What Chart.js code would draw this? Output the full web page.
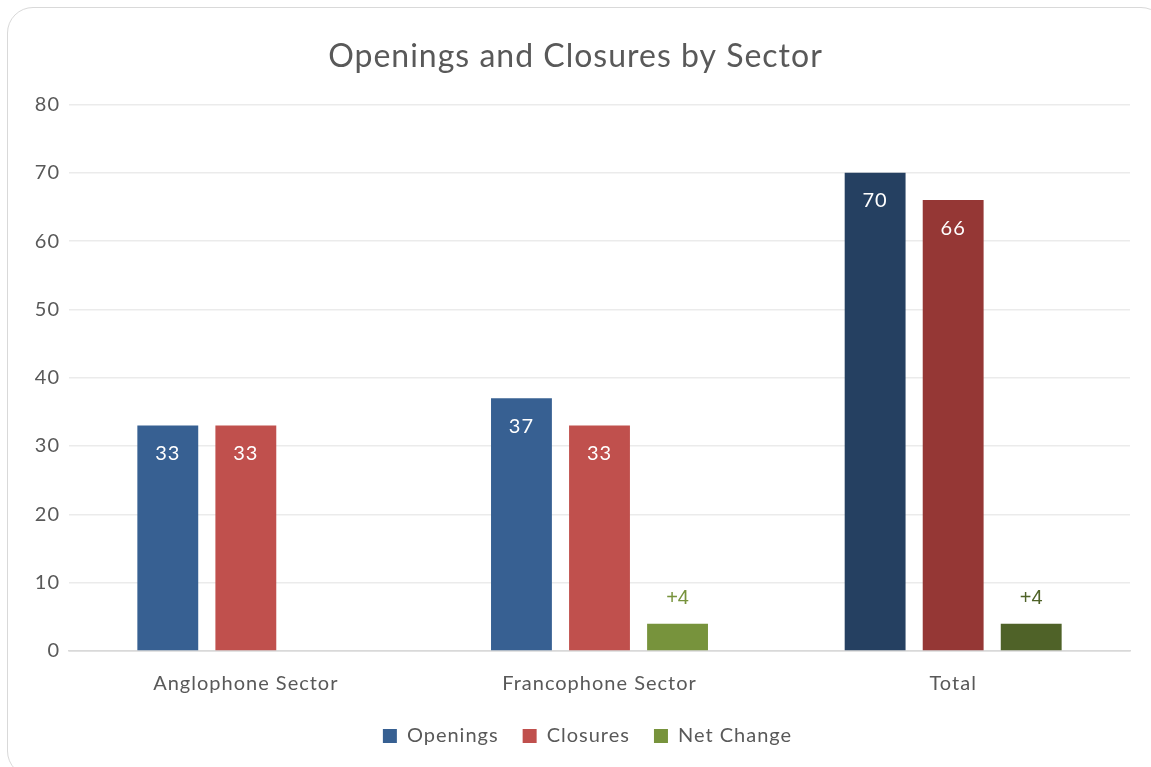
<!DOCTYPE html>
<html><head><meta charset="utf-8">
<script src="https://cdn.jsdelivr.net/npm/chart.js@4/dist/chart.umd.min.js"></script>
<style>
html,body{margin:0;padding:0;background:#fff;overflow:hidden;}
#frame{position:absolute;left:7px;top:7px;width:1160px;height:770px;border:1.5px solid #d9d9d9;border-radius:26px;box-sizing:border-box;}
#wrap{position:absolute;left:0;top:0;width:1151px;height:767px;}
</style></head>
<body>
<div id="frame"></div>
<div id="wrap"><canvas id="c" width="1151" height="767"></canvas></div>
<script>
const categories = ["Anglophone Sector", "Francophone Sector", "Total"];
const openings = [33, 37, 70];
const closures = [33, 33, 66];
const netChange = [null, 4, 4];
const netLabels = ["", "+4", "+4"];
const yTicks = [0, 10, 20, 30, 40, 50, 60, 70, 80];

const FONT = "Lato, 'Open Sans', sans-serif";
const TXT = "#595959";
const SPACING = '1px';

const spacingPlugin = {
  id: 'spacing',
  beforeInit(chart) { chart.ctx.letterSpacing = SPACING; },
  beforeUpdate(chart) { chart.ctx.letterSpacing = SPACING; },
  beforeLayout(chart) { chart.ctx.letterSpacing = SPACING; },
  afterLayout(chart) {
    if (chart.legend) { chart.legend.left += 12; chart.legend.right += 12; }
  },
  beforeDraw(chart) { chart.ctx.letterSpacing = SPACING; }
};

const labelPlugin = {
  id: 'barLabels',
  afterDatasetsDraw(chart) {
    const ctx = chart.ctx;
    ctx.save();
    ctx.textAlign = 'center';
    chart.data.datasets.forEach((ds, di) => {
      const meta = chart.getDatasetMeta(di);
      meta.data.forEach((bar, i) => {
        const v = ds.data[i];
        if (v === null || v === undefined) return;
        if (di < 2) {
          ctx.fillStyle = '#ffffff';
          ctx.font = "20px " + FONT;
          ctx.textBaseline = 'middle';
          ctx.fillText(String(v), bar.x, bar.y + 28);
        } else {
          ctx.fillStyle = Array.isArray(ds.backgroundColor) ? ds.backgroundColor[i] : ds.backgroundColor;
          ctx.font = "20px 'Liberation Sans', Arial, sans-serif";
          ctx.letterSpacing = '0px';
          ctx.textBaseline = 'middle';
          ctx.fillText(netLabels[i], bar.x, bar.y - 25);
          ctx.letterSpacing = SPACING;
        }
      });
    });
    ctx.restore();
  }
};

new Chart(document.getElementById('c'), {
  type: 'bar',
  data: {
    labels: categories,
    datasets: [
      { label: 'Openings', data: openings, backgroundColor: ['#376092', '#376092', '#254061'], categoryPercentage: 0.662, barPercentage: 0.78 },
      { label: 'Closures', data: closures, backgroundColor: ['#C0504D', '#C0504D', '#953735'], categoryPercentage: 0.662, barPercentage: 0.78 },
      { label: 'Net Change', data: netChange, backgroundColor: ['#77933C', '#77933C', '#4F6228'], categoryPercentage: 0.662, barPercentage: 0.78 }
    ]
  },
  options: {
    responsive: false,
    animation: false,
    devicePixelRatio: 1,
    layout: { padding: { top: 20, right: 21, bottom: 11, left: 21 } },
    plugins: {
      title: {
        display: true,
        text: 'Openings and Closures by Sector',
        color: TXT,
        font: { family: FONT, size: 32, weight: 'normal' },
        padding: { top: 17, bottom: 29 }
      },
      legend: {
        position: 'bottom',
        labels: {
          color: TXT,
          font: { family: FONT, size: 20 },
          boxWidth: 14, boxHeight: 14,
          padding: 24,
          generateLabels(chart) {
            return chart.data.datasets.map((ds, i) => ({
              text: ds.label,
              fillStyle: ds.backgroundColor[0],
              strokeStyle: ds.backgroundColor[0],
              lineWidth: 0,
              hidden: false,
              datasetIndex: i,
              fontColor: TXT
            }));
          }
        }
      },
      tooltip: { enabled: false }
    },
    scales: {
      x: {
        afterFit(scale) { scale.height = 51; },
        grid: { display: false, drawTicks: false },
        border: { display: true, color: '#d9d9d9', width: 1.5 },
        ticks: { color: TXT, font: { family: FONT, size: 20 }, padding: 21 }
      },
      y: {
        min: 0, max: 80,
        afterFit(scale) { scale.width = 48; },
        afterBuildTicks(scale) { scale.ticks = yTicks.map(v => ({ value: v })); },
        grid: { color: ctx => ctx.tick && ctx.tick.value === 0 ? '#d9d9d9' : '#ebebeb', lineWidth: 1.5, drawTicks: false },
        border: { display: false },
        ticks: { color: TXT, font: { family: FONT, size: 20 }, padding: 9 }
      }
    }
  },
  plugins: [spacingPlugin, labelPlugin]
});
</script>
</body></html>
